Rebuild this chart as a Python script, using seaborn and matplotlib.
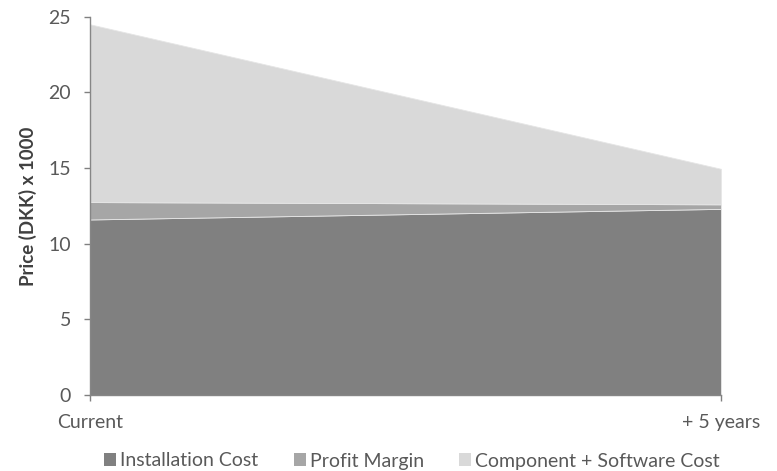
import matplotlib
matplotlib.use("Agg")
import matplotlib.pyplot as plt
from matplotlib.patches import Patch
import seaborn as sns
import pandas as pd

periods = ["Current", "+ 5 years"]
installation_cost = [11.6, 12.3]
profit_margin = [1.15, 0.3]
component_software_cost = [11.75, 2.35]
series_names = ["Installation Cost", "Profit Margin", "Component + Software Cost"]
colors = ["#808080", "#A6A6A6", "#D9D9D9"]

df = pd.DataFrame({
    "period": periods,
    series_names[0]: installation_cost,
    series_names[1]: profit_margin,
    series_names[2]: component_software_cost,
})

sns.set_theme(style="white")
plt.rcParams["font.family"] = ["Lato", "DejaVu Sans"]

fig = plt.figure(figsize=(7.77, 4.71), dpi=100)
ax = fig.add_axes([0.1158, 0.1614, 0.812, 0.8031])

xs = list(range(len(periods)))
ax.stackplot(xs, *[df[n] for n in series_names], colors=colors,
             linewidth=0.6, edgecolor="#E6E6E6")

ax.set_xlim(0, len(periods) - 1)
ax.set_ylim(0, 25)
ax.set_yticks(range(0, 26, 5))
ax.set_xticks(xs)
ax.set_xticklabels(periods)

text_color = "#595959"
fs = 14
ax.tick_params(axis="both", colors="#808080", labelcolor=text_color,
               labelsize=fs, direction="out", length=4.5, width=1,
               left=True, bottom=True)
ax.tick_params(axis="x", pad=9)
ax.tick_params(axis="y", pad=9)

sns.despine(ax=ax, top=True, right=True)
for side in ("left", "bottom"):
    ax.spines[side].set_color("#868686")
    ax.spines[side].set_linewidth(1)

ax.set_ylabel("Price (DKK) x 1000", fontsize=13.5, fontweight="bold",
              color="#404040", va="center")
ax.yaxis.set_label_coords(-0.098, 0.5)

handles = [Patch(facecolor=c, edgecolor="none") for c in colors]
fig.legend(handles, series_names, loc="center",
           bbox_to_anchor=(412 / 777, 1 - 461 / 471), ncol=3, frameon=False,
           fontsize=fs, labelcolor=text_color, handlelength=0.62,
           handleheight=0.62, handletextpad=0.22, columnspacing=1.8,
           borderaxespad=0, borderpad=0)

fig.savefig("out.png", dpi=100)
